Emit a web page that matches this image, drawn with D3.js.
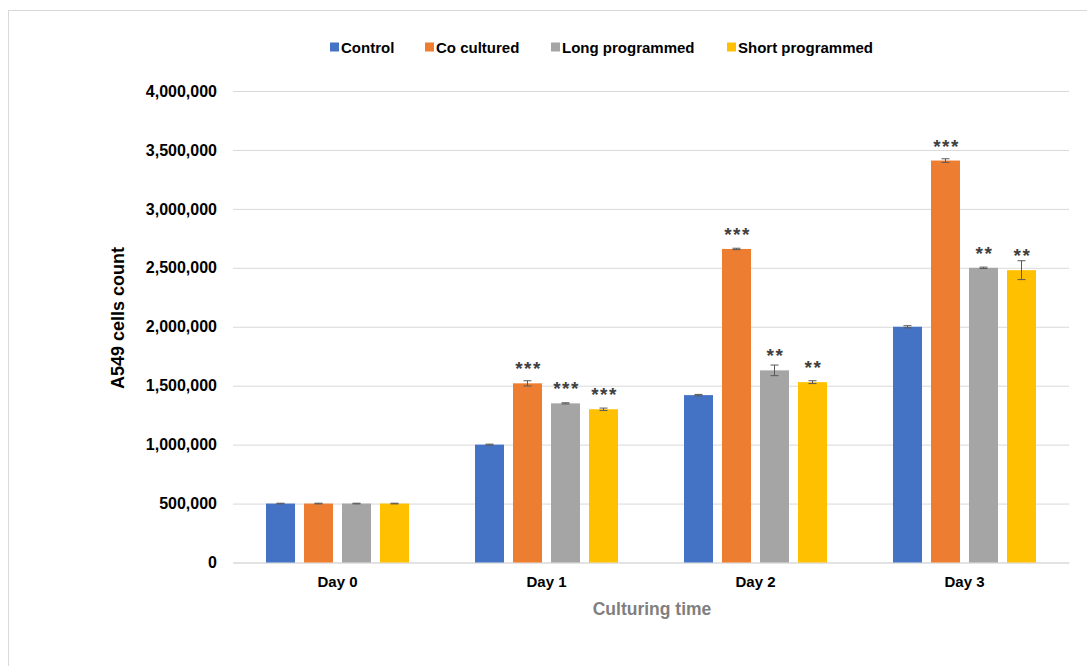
<!DOCTYPE html>
<html>
<head>
<meta charset="utf-8">
<script src="https://cdn.jsdelivr.net/npm/d3@7"></script>
<style>
  html, body { margin: 0; padding: 0; background: #ffffff; }
  svg { display: block; }
  text { font-family: "Liberation Sans", Arial, sans-serif; }
</style>
</head>
<body>
<svg id="chart" width="1087" height="666"></svg>
<script>
// ---- data ----
const categories = ["Day 0", "Day 1", "Day 2", "Day 3"];
const seriesNames = ["Control", "Co cultured", "Long programmed", "Short programmed"];
const seriesColors = ["#4472C4", "#ED7D31", "#A5A5A5", "#FFC000"];
const controlValues      = [500000, 1000000, 1420000, 2000000];
const coCulturedValues   = [500000, 1520000, 2660000, 3410000];
const longProgValues     = [500000, 1350000, 1630000, 2500000];
const shortProgValues    = [500000, 1300000, 1530000, 2480000];
const controlErrors      = [3000, 4000, 6000, 9000];
const coCulturedErrors   = [3000, 22000, 6000, 15000];
const longProgErrors     = [3000, 5000, 45000, 6000];
const shortProgErrors    = [3000, 10000, 12000, 80000];
const controlStars       = ["", "", "", ""];
const coCulturedStars    = ["", "***", "***", "***"];
const longProgStars      = ["", "***", "**", "**"];
const shortProgStars     = ["", "***", "**", "**"];
const yTicks = [0, 500000, 1000000, 1500000, 2000000, 2500000, 3000000, 3500000, 4000000];
const yTitle = "A549 cells count";
const xTitle = "Culturing time";

const seriesValues = [controlValues, coCulturedValues, longProgValues, shortProgValues];
const seriesErrors = [controlErrors, coCulturedErrors, longProgErrors, shortProgErrors];
const seriesStars = [controlStars, coCulturedStars, longProgStars, shortProgStars];

const rows = [];
categories.forEach((c, ci) => {
  seriesNames.forEach((s, si) => {
    rows.push({cat: c, series: s, si, value: seriesValues[si][ci], err: seriesErrors[si][ci], stars: seriesStars[si][ci]});
  });
});

// ---- layout ----
const svg = d3.select("#chart");
const pLeft = 233, pRight = 1069, pTop = 91, pBottom = 562.5;

// frame
svg.append("rect").attr("x", 8.5).attr("y", 10.5).attr("width", 1100).attr("height", 700)
  .attr("fill", "#ffffff").attr("stroke", "#d9d9d9").attr("stroke-width", 1);

const x0 = d3.scaleBand().domain(categories).range([pLeft, pRight]).paddingInner(0).paddingOuter(0);
const groupPad = 33;
const x1 = d3.scaleBand().domain(seriesNames).range([groupPad, x0.bandwidth() - groupPad]).paddingInner(0.237).paddingOuter(0);
const y = d3.scaleLinear().domain([0, 4000000]).range([pBottom, pTop]);
const color = d3.scaleOrdinal().domain(seriesNames).range(seriesColors);

// gridlines
const yAxis = d3.axisLeft(y).tickValues(yTicks).tickSize(-(pRight - pLeft)).tickPadding(16)
  .tickFormat(d3.format(","));
const gy = svg.append("g").attr("transform", `translate(${pLeft},0)`).call(yAxis);
gy.select(".domain").remove();
gy.selectAll(".tick line").attr("stroke", "#d9d9d9").attr("stroke-width", 1);
gy.selectAll(".tick text").attr("font-size", 16).attr("font-weight", "bold").attr("fill", "#000")
  .attr("font-family", "Liberation Sans, Arial, sans-serif");

// x axis labels
const xAxis = d3.axisBottom(x0).tickSize(0).tickPadding(14);
const gx = svg.append("g").attr("transform", `translate(0,${pBottom})`).call(xAxis);
gx.select(".domain").attr("stroke", "#d9d9d9");
gx.selectAll(".tick text").attr("font-size", 15).attr("font-weight", "bold").attr("fill", "#000")
  .attr("font-family", "Liberation Sans, Arial, sans-serif");

// bars
const groups = svg.append("g").selectAll("g").data(categories).join("g")
  .attr("transform", d => `translate(${x0(d)},0)`);
groups.selectAll("rect").data(c => rows.filter(r => r.cat === c)).join("rect")
  .attr("x", d => x1(d.series))
  .attr("y", d => y(d.value))
  .attr("width", x1.bandwidth())
  .attr("height", d => y(0) - y(d.value))
  .attr("fill", d => color(d.series));

// error bars
const capW = 4;
const eb = groups.selectAll("g.err").data(c => rows.filter(r => r.cat === c)).join("g").attr("class", "err");
eb.append("line")
  .attr("x1", d => x1(d.series) + x1.bandwidth() / 2).attr("x2", d => x1(d.series) + x1.bandwidth() / 2)
  .attr("y1", d => y(d.value + d.err)).attr("y2", d => y(d.value - d.err))
  .attr("stroke", "#595959").attr("stroke-width", 1);
eb.append("line")
  .attr("x1", d => x1(d.series) + x1.bandwidth() / 2 - capW).attr("x2", d => x1(d.series) + x1.bandwidth() / 2 + capW)
  .attr("y1", d => y(d.value + d.err)).attr("y2", d => y(d.value + d.err))
  .attr("stroke", "#595959").attr("stroke-width", 1);
eb.append("line")
  .attr("x1", d => x1(d.series) + x1.bandwidth() / 2 - capW).attr("x2", d => x1(d.series) + x1.bandwidth() / 2 + capW)
  .attr("y1", d => y(d.value - d.err)).attr("y2", d => y(d.value - d.err))
  .attr("stroke", "#595959").attr("stroke-width", 1);

// significance stars
groups.selectAll("text.star").data(c => rows.filter(r => r.cat === c && r.stars)).join("text")
  .attr("class", "star")
  .attr("x", d => x1(d.series) + x1.bandwidth() / 2 + 1)
  .attr("y", d => y(d.value) - 8)
  .attr("text-anchor", "middle")
  .attr("font-size", 19)
  .attr("font-weight", "bold")
  .attr("letter-spacing", 1.5)
  .attr("fill", "#404040")
  .text(d => d.stars);

// axis titles
svg.append("text")
  .attr("transform", `translate(124,318) rotate(-90)`)
  .attr("text-anchor", "middle")
  .attr("font-size", 18)
  .attr("font-weight", "bold")
  .attr("fill", "#000")
  .text(yTitle);
svg.append("text")
  .attr("x", (pLeft + pRight) / 2 + 1)
  .attr("y", 615)
  .attr("text-anchor", "middle")
  .attr("font-size", 17.5)
  .attr("font-weight", "bold")
  .attr("fill", "#7f7f7f")
  .text(xTitle);

// legend
const legendX = [330, 425, 551, 727];
const lg = svg.append("g").selectAll("g").data(seriesNames).join("g")
  .attr("transform", (d, i) => `translate(${legendX[i]},47)`);
lg.append("rect").attr("x", 0).attr("y", -4.5).attr("width", 9).attr("height", 9)
  .attr("fill", d => color(d));
lg.append("text").attr("x", 11).attr("y", 5.5)
  .attr("font-size", 15).attr("font-weight", "bold").attr("fill", "#000")
  .text(d => d);
</script>
</body>
</html>
